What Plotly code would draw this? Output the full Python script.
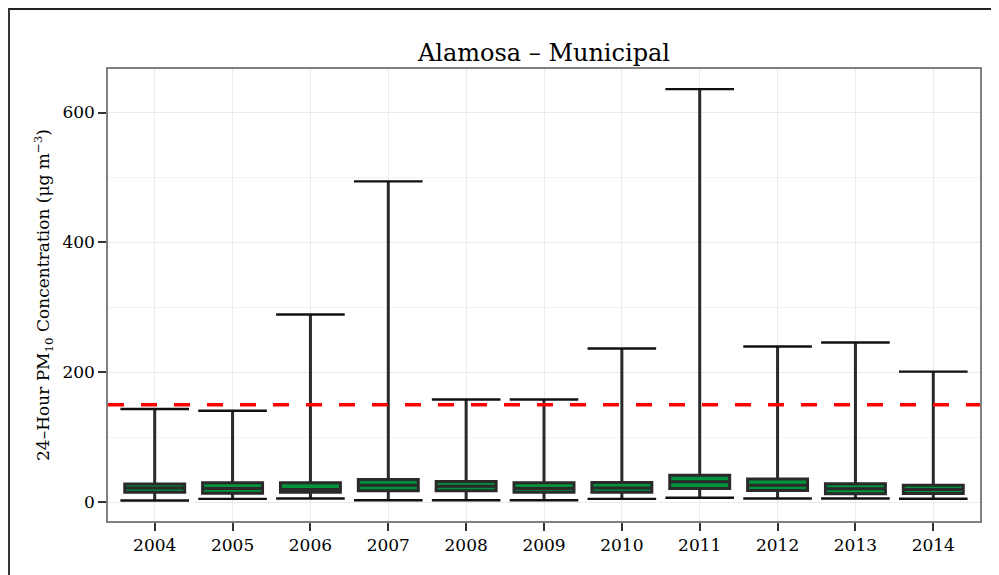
import plotly.graph_objects as go

years = ['2004', '2005', '2006', '2007', '2008', '2009', '2010', '2011', '2012', '2013', '2014']
mins = [2.5, 5.0, 5.7, 3.0, 3.0, 3.0, 5.0, 6.8, 5.7, 5.7, 5.2]
q1 = [15.4, 13.9, 15.4, 17.4, 17.4, 15.4, 15.4, 21.1, 18.0, 13.0, 13.4]
medians = [22.0, 21.0, 19.5, 26.0, 24.6, 21.0, 22.0, 31.5, 26.2, 20.5, 19.6]
q3 = [27.8, 29.8, 29.8, 34.9, 31.8, 29.8, 30.4, 41.6, 35.5, 28.2, 26.2]
maxs = [143.4, 140.8, 289, 494, 158, 158, 236.6, 636, 239.6, 245.8, 201]
standard = 150
y_ticks = [0, 200, 400, 600]

FONT = "DejaVu Serif"

# page body has an 8px margin: figure origin sits at (8, 8) on the page
OFF = 8
W, H = 999 - OFF, 575 - OFF
L, R, T, B = 108 - OFF, 980 - OFF, 69 - OFF, 521 - OFF
PW, PH = R - L, B - T

fig = go.Figure()

fig.add_trace(go.Box(
    x=years, q1=q1, median=medians, q3=q3,
    lowerfence=mins, upperfence=maxs,
    width=0.77, whiskerwidth=0, boxpoints=False,
    fillcolor="#00933B", line=dict(color="#2a2a2a", width=3),
    showlegend=False, hoverinfo="skip",
))

# whisker caps
fig.add_trace(go.Scatter(
    x=years + years, y=maxs + mins, mode="markers",
    marker=dict(symbol="line-ew", size=49, line=dict(color="#111111", width=2.4)),
    showlegend=False, hoverinfo="skip",
))

fig.add_shape(type="line", xref="paper", x0=0, x1=1, yref="y", y0=standard, y1=standard,
              line=dict(color="#ff0000", width=3.5, dash="16px,17px"), layer="above")

# outer frame
fig.add_shape(type="rect", xref="paper", yref="paper",
              x0=(1 - L) / PW, x1=(W + 20 - L) / PW,
              y0=(B - (H + 20)) / PH, y1=(B - 1) / PH,
              line=dict(color="#222222", width=1.8), fillcolor="rgba(0,0,0,0)")

fig.update_layout(
    width=W, height=H,
    margin=dict(l=L, r=W - R, t=T, b=H - B, autoexpand=False),
    paper_bgcolor="white", plot_bgcolor="white",
    font=dict(family=FONT, color="#000000", size=17),
    title=dict(text="Alamosa – Municipal", x=(544 - OFF) / W, xanchor="center",
               y=1 - (53 - OFF) / H, yanchor="middle", yref="container",
               font=dict(family=FONT, size=24, color="#000000")),
)

fig.update_xaxes(
    type="category", range=[-0.6, 10.6],
    showline=True, mirror=True, linecolor="#7f7f7f", linewidth=1.5,
    showgrid=True, gridcolor="#ebebeb", gridwidth=1,
    ticks="outside", ticklen=8, tickwidth=1.5, tickcolor="#333333",
    tickfont=dict(family=FONT, size=17, color="#000000"),
    zeroline=False,
)
fig.update_yaxes(
    range=[-29, 667], tickvals=y_ticks,
    showline=True, mirror=True, linecolor="#7f7f7f", linewidth=1.5,
    showgrid=True, gridcolor="#ebebeb", gridwidth=1,
    minor=dict(dtick=100, tick0=0, showgrid=True, gridcolor="#f3f3f3", gridwidth=0.6),
    ticks="outside", ticklen=8, tickwidth=1.5, tickcolor="#333333",
    tickfont=dict(family=FONT, size=17, color="#000000"),
    zeroline=False,
    title=dict(text="24–Hour PM<sub>10</sub> Concentration (μg m<sup>−3</sup>)",
               font=dict(family=FONT, size=17, color="#000000"), standoff=8),
)

fig.write_html("out.html")
